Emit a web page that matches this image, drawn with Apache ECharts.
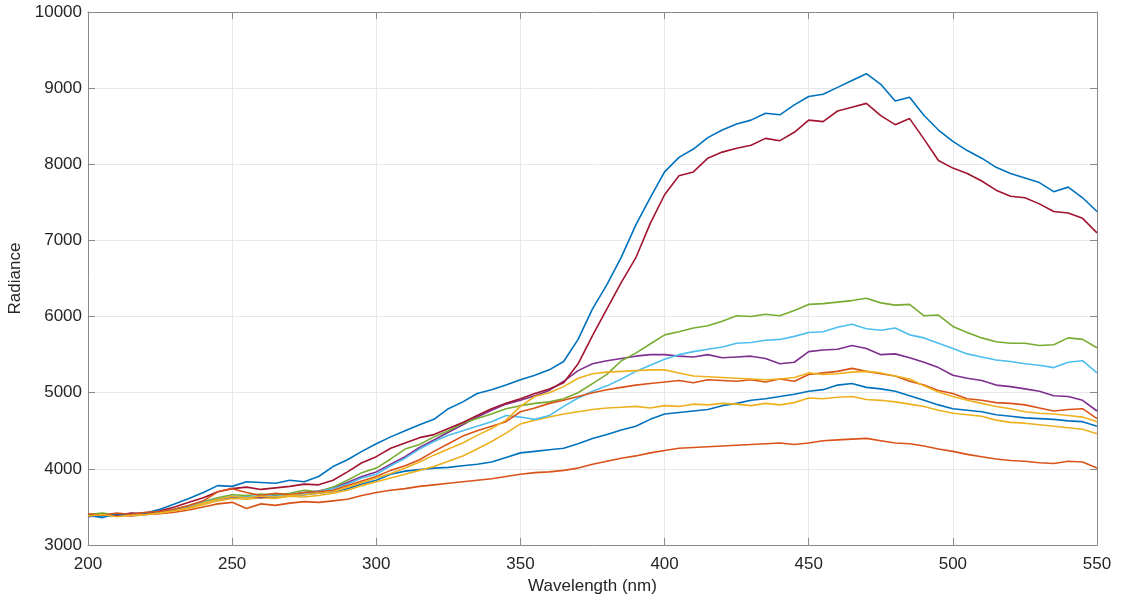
<!DOCTYPE html>
<html>
<head>
<meta charset="utf-8">
<script src="https://cdn.jsdelivr.net/npm/echarts@6/dist/echarts.min.js"></script>
<style>
html,body{margin:0;padding:0;background:#fff;}
#chart{width:1131px;height:603px;}
</style>
</head>
<body>
<div id="chart"></div>
<script>
// Wavelengths (nm), every 5 nm from 200 to 550
const wavelengths = [200,205,210,215,220,225,230,235,240,245,250,255,260,265,270,275,280,285,290,295,300,305,310,315,320,325,330,335,340,345,350,355,360,365,370,375,380,385,390,395,400,405,410,415,420,425,430,435,440,445,450,455,460,465,470,475,480,485,490,495,500,505,510,515,520,525,530,535,540,545,550];

const blueLow = [3370,3390,3380,3400,3420,3440,3470,3510,3560,3610,3630,3620,3640,3620,3650,3660,3680,3700,3740,3800,3850,3930,3970,3990,4010,4020,4040,4060,4090,4150,4210,4230,4250,4270,4330,4400,4450,4510,4560,4650,4720,4740,4760,4780,4830,4860,4900,4920,4950,4980,5020,5040,5100,5120,5070,5050,5020,4960,4900,4840,4790,4770,4750,4710,4690,4670,4660,4650,4630,4620,4560];
const orangeLow = [3380,3400,3390,3380,3400,3410,3430,3460,3500,3540,3560,3480,3540,3520,3550,3570,3560,3580,3600,3650,3690,3720,3740,3770,3790,3810,3830,3850,3870,3900,3930,3950,3960,3980,4010,4060,4100,4140,4170,4210,4240,4270,4280,4290,4300,4310,4320,4330,4340,4320,4340,4370,4380,4390,4400,4370,4340,4330,4300,4260,4230,4190,4160,4130,4110,4100,4080,4070,4100,4090,4010];
const yellowLow = [3400,3380,3410,3390,3400,3420,3450,3480,3530,3580,3610,3600,3620,3610,3640,3630,3650,3680,3720,3780,3830,3880,3930,3980,4030,4100,4170,4260,4360,4470,4590,4640,4680,4720,4750,4780,4800,4810,4820,4800,4830,4820,4850,4840,4860,4850,4830,4860,4840,4870,4930,4920,4940,4950,4910,4900,4880,4850,4820,4770,4730,4710,4690,4640,4610,4600,4580,4560,4540,4520,4460];
const purple = [3390,3400,3380,3410,3420,3430,3460,3500,3560,3600,3630,3640,3620,3650,3660,3690,3710,3750,3820,3900,3960,4060,4160,4280,4380,4480,4580,4680,4770,4850,4900,4960,5030,5150,5290,5380,5420,5450,5480,5500,5500,5480,5470,5500,5460,5470,5480,5450,5380,5400,5540,5560,5570,5620,5580,5500,5510,5460,5400,5330,5230,5190,5160,5100,5080,5050,5020,4960,4950,4900,4760];
const green = [3400,3420,3390,3410,3400,3430,3470,3520,3570,3620,3660,3650,3670,3660,3680,3720,3700,3760,3850,3950,4010,4130,4260,4320,4420,4500,4600,4660,4720,4790,4830,4860,4880,4920,5000,5120,5240,5420,5520,5640,5760,5800,5850,5880,5940,6010,6000,6030,6010,6080,6160,6170,6190,6210,6240,6180,6150,6160,6010,6020,5870,5790,5720,5670,5650,5650,5620,5630,5720,5700,5590];
const lightBlue = [3390,3370,3400,3390,3420,3440,3470,3510,3560,3600,3640,3630,3650,3640,3660,3680,3700,3740,3800,3880,3930,4040,4140,4260,4360,4440,4500,4560,4620,4700,4680,4650,4700,4820,4930,5020,5090,5180,5280,5360,5440,5500,5540,5570,5600,5650,5660,5690,5700,5740,5790,5800,5860,5900,5840,5820,5850,5760,5720,5650,5580,5510,5470,5430,5410,5380,5360,5330,5400,5420,5260];
const darkRed = [3380,3400,3390,3420,3410,3450,3500,3560,3620,3700,3740,3760,3730,3750,3770,3800,3790,3850,3960,4080,4160,4270,4340,4410,4450,4530,4610,4700,4790,4860,4920,4990,5050,5130,5380,5750,6100,6450,6770,7220,7600,7850,7900,8080,8160,8210,8250,8340,8310,8420,8580,8560,8700,8750,8800,8640,8520,8600,8330,8050,7950,7880,7780,7660,7580,7560,7480,7380,7360,7290,7100];
const blueTop = [3390,3360,3410,3400,3420,3470,3540,3610,3690,3780,3770,3830,3820,3810,3850,3830,3900,4030,4120,4230,4330,4420,4500,4580,4650,4790,4880,4990,5040,5100,5170,5230,5300,5410,5700,6100,6420,6780,7200,7560,7900,8090,8200,8350,8450,8530,8580,8670,8650,8780,8890,8920,9010,9100,9190,9050,8830,8880,8640,8450,8300,8180,8080,7960,7880,7820,7760,7640,7700,7560,7380];
const orangeUp = [3410,3390,3420,3400,3430,3440,3470,3520,3580,3700,3740,3690,3650,3680,3660,3690,3700,3720,3780,3840,3900,3980,4040,4120,4230,4330,4430,4500,4560,4620,4750,4800,4860,4900,4950,5000,5040,5070,5100,5120,5140,5160,5130,5170,5160,5150,5170,5140,5180,5150,5240,5260,5280,5320,5280,5250,5220,5150,5100,5030,4990,4920,4900,4870,4860,4840,4800,4760,4780,4790,4660];
const yellowUp = [3380,3400,3370,3390,3400,3420,3450,3490,3550,3600,3640,3620,3640,3630,3650,3660,3680,3700,3760,3820,3880,3940,4010,4090,4180,4260,4340,4440,4530,4640,4820,4950,5000,5080,5190,5250,5270,5280,5290,5300,5300,5260,5220,5210,5200,5190,5180,5170,5180,5200,5260,5240,5250,5270,5280,5260,5220,5180,5090,5010,4950,4900,4860,4820,4790,4750,4730,4720,4700,4680,4620];

const seriesList = [
  {values: blueLow,   color: '#0072BD'},
  {values: orangeLow, color: '#D95319'},
  {values: yellowLow, color: '#EDB120'},
  {values: purple,    color: '#7E2F8E'},
  {values: green,     color: '#77AC30'},
  {values: lightBlue, color: '#4DBEEE'},
  {values: darkRed,   color: '#A2142F'},
  {values: blueTop,   color: '#0072BD'},
  {values: orangeUp,  color: '#D95319'},
  {values: yellowUp,  color: '#EDB120'}
];

const axisColor = '#8a8a8a';
const textColor = '#262626';
const fontFam = '"Liberation Sans", Arial, sans-serif';

const chart = echarts.init(document.getElementById('chart'), null, {renderer: 'canvas'});
chart.setOption({
  animation: false,
  backgroundColor: '#ffffff',
  grid: {left: 88, right: 34, top: 12, bottom: 58, containLabel: false, outerBoundsMode: 'none'},
  xAxis: [{
    type: 'value', min: 200, max: 550, interval: 50,
    name: 'Wavelength (nm)', nameLocation: 'middle', nameGap: 32,
    nameTextStyle: {color: textColor, fontSize: 17, fontFamily: fontFam},
    axisLine: {show: true, lineStyle: {color: axisColor, width: 1}},
    axisTick: {show: true, inside: true, length: 7, lineStyle: {color: axisColor}},
    axisLabel: {color: textColor, fontSize: 17, fontFamily: fontFam, margin: 11, formatter: v => String(v)},
    splitLine: {show: true, lineStyle: {color: '#e8e8e8', width: 1}}
  }, {
    type: 'value', min: 200, max: 550, interval: 50, position: 'top',
    axisLine: {show: true, lineStyle: {color: axisColor, width: 1}},
    axisTick: {show: true, inside: true, length: 7, lineStyle: {color: axisColor}},
    axisLabel: {show: false}, splitLine: {show: false}
  }],
  yAxis: [{
    type: 'value', min: 3000, max: 10000, interval: 1000,
    name: 'Radiance', nameLocation: 'middle', nameGap: 59, nameRotate: 90,
    nameTextStyle: {color: textColor, fontSize: 17, fontFamily: fontFam},
    axisLine: {show: true, lineStyle: {color: axisColor, width: 1}},
    axisTick: {show: true, inside: true, length: 7, lineStyle: {color: axisColor}},
    axisLabel: {color: textColor, fontSize: 17, fontFamily: fontFam, margin: 6, formatter: v => String(v)},
    splitLine: {show: true, lineStyle: {color: '#e8e8e8', width: 1}}
  }, {
    type: 'value', min: 3000, max: 10000, interval: 1000, position: 'right',
    axisLine: {show: true, lineStyle: {color: axisColor, width: 1}},
    axisTick: {show: true, inside: true, length: 7, lineStyle: {color: axisColor}},
    axisLabel: {show: false}, splitLine: {show: false}
  }],
  series: seriesList.map(s => ({
    type: 'line',
    xAxisIndex: 0, yAxisIndex: 0,
    data: wavelengths.map((w, i) => [w, s.values[i]]),
    showSymbol: false,
    symbol: 'none',
    lineStyle: {color: s.color, width: 1.6},
    itemStyle: {color: s.color},
    silent: true
  }))
});
</script>
</body>
</html>
